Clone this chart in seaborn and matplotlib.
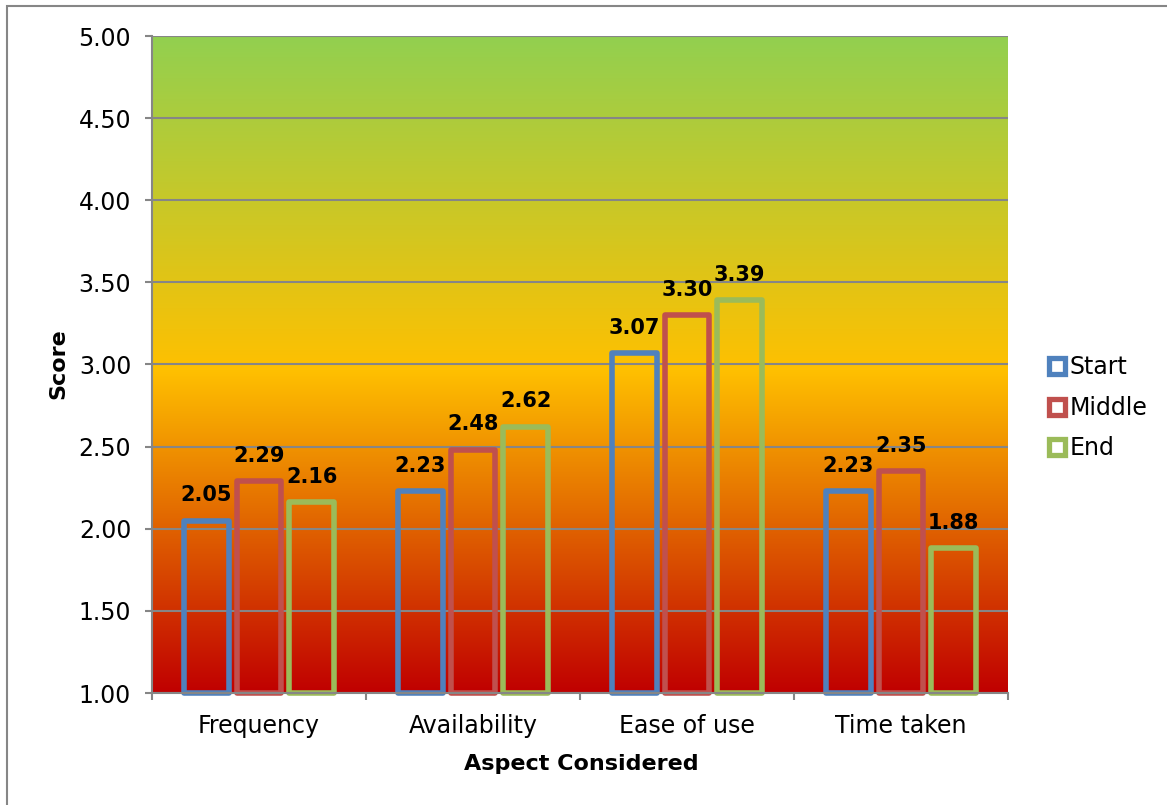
import numpy as np
import pandas as pd
import matplotlib
matplotlib.use("Agg")
import matplotlib.pyplot as plt
from matplotlib.colors import LinearSegmentedColormap
from matplotlib.lines import Line2D
from matplotlib.patches import Rectangle
import seaborn as sns

# Survey scores per aspect at three points in time
aspects = ["Frequency", "Availability", "Ease of use", "Time taken"]
periods = ["Start", "Middle", "End"]
start_scores = [2.05, 2.23, 3.07, 2.23]
middle_scores = [2.29, 2.48, 3.30, 2.35]
end_scores = [2.16, 2.62, 3.39, 1.88]
y_ticks = [1.00, 1.50, 2.00, 2.50, 3.00, 3.50, 4.00, 4.50, 5.00]

period_colors = {"Start": "#4F81BD", "Middle": "#C0504D", "End": "#9BBB59"}
grey = "#868686"

df = pd.DataFrame({
    "Aspect": aspects * 3,
    "Period": ["Start"] * 4 + ["Middle"] * 4 + ["End"] * 4,
    "Score": start_scores + middle_scores + end_scores,
})

sns.set_theme(style="white")
plt.rcParams["font.family"] = ["DejaVu Sans"]
plt.rcParams["text.color"] = "black"
plt.rcParams["axes.labelcolor"] = "black"
plt.rcParams["xtick.color"] = "black"
plt.rcParams["ytick.color"] = "black"

fig = plt.figure(figsize=(11.67, 8.05), dpi=100)
ax = fig.add_axes([152 / 1167, 1 - 693 / 805, (1008 - 152) / 1167, (693 - 36) / 805])

# Red -> amber -> green background gradient across the plot area
cmap = LinearSegmentedColormap.from_list(
    "heat", [(0.0, "#C00000"), (0.49, "#FFC000"), (1.0, "#92D050")])
grad = np.linspace(0, 1, 512).reshape(-1, 1)
ax.imshow(grad, cmap=cmap, origin="lower", aspect="auto",
          extent=[-0.5, 3.5, 1.0, 5.0], zorder=0, interpolation="bicubic")

sns.barplot(data=df, x="Aspect", y="Score", hue="Period", order=aspects,
            hue_order=periods, palette=period_colors, fill=False,
            linewidth=4.0, width=0.74, gap=0.15, legend=False, ax=ax,
            errorbar=None, zorder=3)

# Bars rise from the 1.00 baseline of the score scale
for patch in ax.patches:
    if isinstance(patch, Rectangle) and patch.get_height() > 0:
        h = patch.get_y() + patch.get_height()
        patch.set_y(1.0)
        patch.set_height(h - 1.0)
        patch.set_joinstyle("round")
        patch.set_clip_on(False)

# Value labels above each bar
for i, vals in enumerate([start_scores, middle_scores, end_scores]):
    container = ax.containers[i]
    for bar, v in zip(container, vals):
        ax.annotate(f"{v:.2f}", (bar.get_x() + bar.get_width() / 2, v),
                    xytext=(0, 14), textcoords="offset points",
                    ha="center", va="baseline", fontsize=15,
                    fontweight="bold", color="black", zorder=5)

ax.set_xlim(-0.5, 3.5)
ax.set_ylim(1.0, 5.0)
ax.set_yticks(y_ticks)
ax.set_yticklabels([f"{t:.2f}" for t in y_ticks])
ax.yaxis.grid(True, color=grey, linewidth=1.5, zorder=1)
ax.set_axisbelow(True)
ax.set_xlabel("")
ax.set_ylabel("")

ax.set_xticks(range(len(aspects)))
ax.set_xticklabels(aspects)
ax.set_xticks([-0.5, 0.5, 1.5, 2.5, 3.5], minor=True)
ax.tick_params(axis="x", which="major", length=0, pad=15, labelsize=17,
               labelcolor="black")
ax.tick_params(axis="x", which="minor", length=5, width=1.5, color=grey,
               direction="out", bottom=True)
ax.tick_params(axis="y", which="major", length=5, width=1.5, color=grey,
               direction="out", left=True, pad=10, labelsize=17,
               labelcolor="black")

for side in ["top", "right"]:
    ax.spines[side].set_visible(False)
for side in ["left", "bottom"]:
    ax.spines[side].set_color(grey)
    ax.spines[side].set_linewidth(1.5)
    ax.spines[side].set_zorder(4)

fig.text(581 / 1167, 1 - 764 / 805, "Aspect Considered", ha="center",
         va="center", fontsize=16, fontweight="bold", color="black")
fig.text(58 / 1167, 1 - 364 / 805, "Score", ha="center", va="center",
         rotation=90, fontsize=16, fontweight="bold", color="black")

handles = [Line2D([], [], linestyle="none", marker="s", markersize=12,
                  markerfacecolor="white", markeredgecolor=period_colors[p],
                  markeredgewidth=3.8) for p in periods]
leg = ax.legend(handles, periods, loc="center left",
                bbox_to_anchor=(1.035, 0.434), frameon=False, fontsize=17,
                handlelength=0.8, handletextpad=0.15, labelspacing=0.7,
                borderaxespad=0, labelcolor="black")

# Grey frame around the chart
fig.patches.append(Rectangle((7 / 1167, -0.5), 2.0, 0.5 + (1 - 6 / 805),
                             transform=fig.transFigure, fill=False,
                             edgecolor=grey, linewidth=1.5))

fig.savefig("out.png", dpi=100)
